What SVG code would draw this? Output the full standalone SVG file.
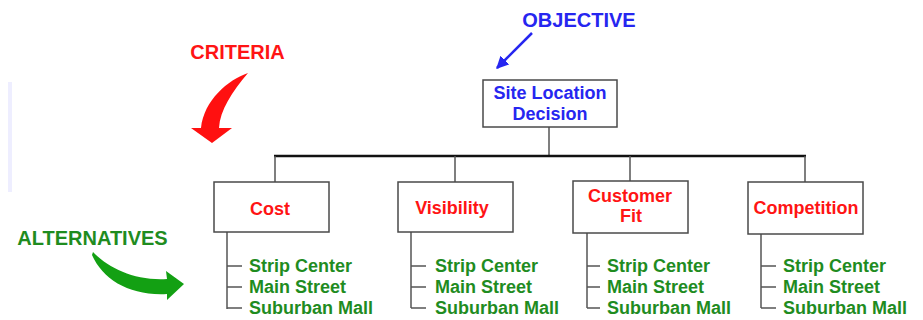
<svg xmlns="http://www.w3.org/2000/svg" width="923" height="320" viewBox="0 0 923 320">
<style>
  text { font-family: "Liberation Sans", Arial, sans-serif; font-weight: bold; }
  .node { font-size: 18px; }
  .lab { font-size: 20px; }
  .blue { fill: #2626f0; }
  .red { fill: #ff1414; }
  .green { fill: #1f8c1f; }
  .box { fill: #ffffff; stroke: #4a4a4a; stroke-width: 1.5; }
  .thin { stroke: #555555; stroke-width: 1.5; fill: none; }
  .bus { stroke: #111111; stroke-width: 2.5; fill: none; }
</style>
<defs>
  <marker id="blueHead" viewBox="0 0 10 10" refX="9" refY="5" markerWidth="5" markerHeight="5" orient="auto">
    <path d="M0,0 L10,5 L0,10 Z" fill="#2626f0"/>
  </marker>
</defs>
<rect width="923" height="320" fill="#ffffff"/>
<rect x="8" y="82" width="4" height="110" fill="#eeeeff"/>

<g id="connectors">
  <line class="thin" x1="549" y1="127" x2="549" y2="156"/>
  <line class="bus" x1="274" y1="156" x2="806" y2="156"/>
  <line class="thin" x1="275" y1="156" x2="275" y2="182"/>
  <line class="thin" x1="455" y1="156" x2="455" y2="182"/>
  <line class="thin" x1="630" y1="156" x2="630" y2="181"/>
  <line class="thin" x1="805" y1="156" x2="805" y2="182"/>
  <path class="thin" d="M227,232 V309 M227,266 H242 M227,287 H242 M227,308 H242"/>
  <path class="thin" d="M411,232 V308 M411,266 H426 M411,287 H426 M411,308 H426"/>
  <path class="thin" d="M587,233 V308 M587,266 H600 M587,287 H600 M587,308 H600"/>
  <path class="thin" d="M761,234 V308 M761,266 H776 M761,287 H776 M761,308 H776"/>
</g>

<g id="objective-label">
  <text class="lab blue" x="579" y="27" text-anchor="middle">OBJECTIVE</text>
  <line x1="532" y1="33" x2="497" y2="68" stroke="#2626f0" stroke-width="2.5" marker-end="url(#blueHead)"/>
</g>

<g id="criteria-label">
  <text class="lab red" x="237.5" y="59" text-anchor="middle">CRITERIA</text>
  <path d="M248,73 C228,80 204,100 201,128 L191,128 L212,143 L232,128 L219,128 C220,110 232,92 248,73 Z" fill="#ff1010"/>
</g>

<g id="alternatives-label">
  <text class="lab green" x="92.5" y="245" text-anchor="middle">ALTERNATIVES</text>
  <path d="M93,252 C108,268 135,281 167,279 L166,271 L184,284 L167,300 L167,294 C130,296 103,280 92,255 Z" fill="#13a013"/>
</g>

<g id="site-location">
  <rect class="box" x="483" y="80" width="134" height="47"/>
  <text class="node blue" x="550" y="99" text-anchor="middle">Site Location</text>
  <text class="node blue" x="550" y="120" text-anchor="middle">Decision</text>
</g>

<g id="cost">
  <rect class="box" x="214" y="182" width="115" height="50"/>
  <text class="node red" x="270" y="215" text-anchor="middle">Cost</text>
</g>

<g id="visibility">
  <rect class="box" x="398" y="182" width="115" height="50"/>
  <text class="node red" x="452" y="214" text-anchor="middle">Visibility</text>
</g>

<g id="customer-fit">
  <rect class="box" x="573" y="181" width="115" height="52"/>
  <text class="node red" x="630" y="202" text-anchor="middle">Customer</text>
  <text class="node red" x="631" y="222" text-anchor="middle">Fit</text>
</g>

<g id="competition">
  <rect class="box" x="748" y="182" width="115" height="52"/>
  <text class="node red" x="806" y="214" text-anchor="middle">Competition</text>
</g>

<g id="alts-cost">
  <text class="node green" x="249" y="272">Strip Center</text>
  <text class="node green" x="249" y="293">Main Street</text>
  <text class="node green" x="249" y="314">Suburban Mall</text>
</g>
<g id="alts-visibility">
  <text class="node green" x="435" y="272">Strip Center</text>
  <text class="node green" x="435" y="293">Main Street</text>
  <text class="node green" x="435" y="314">Suburban Mall</text>
</g>
<g id="alts-customer-fit">
  <text class="node green" x="607" y="272">Strip Center</text>
  <text class="node green" x="607" y="293">Main Street</text>
  <text class="node green" x="607" y="314">Suburban Mall</text>
</g>
<g id="alts-competition">
  <text class="node green" x="783" y="272">Strip Center</text>
  <text class="node green" x="783" y="293">Main Street</text>
  <text class="node green" x="783" y="314">Suburban Mall</text>
</g>
</svg>
